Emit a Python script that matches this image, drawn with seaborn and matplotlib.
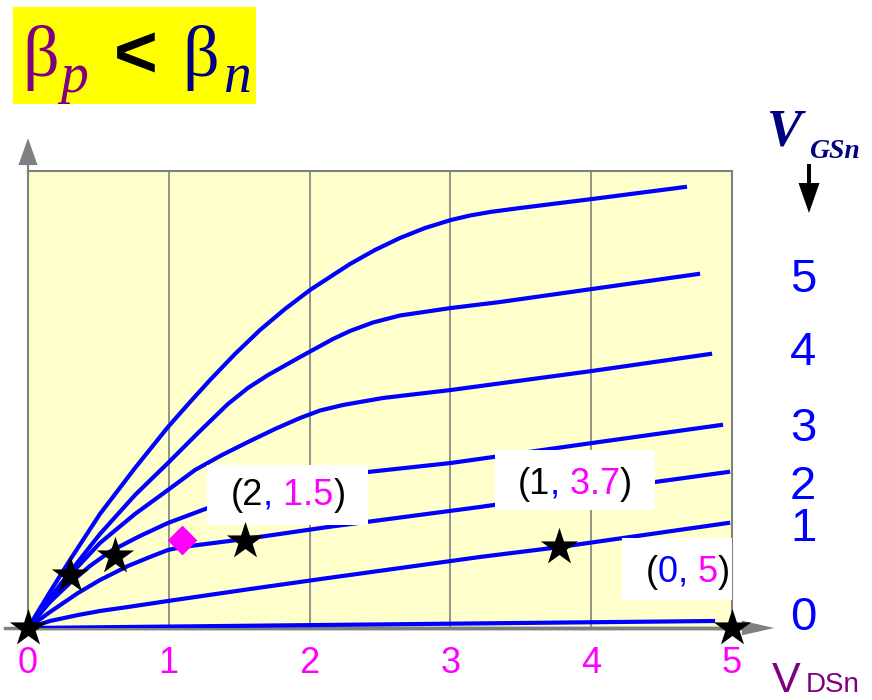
import matplotlib
matplotlib.use("Agg")
import matplotlib.pyplot as plt
from matplotlib.patches import Rectangle, Polygon
from matplotlib.transforms import Affine2D
from matplotlib.offsetbox import TextArea, HPacker, AnnotationBbox
import pandas as pd
import seaborn as sns

# ---- NMOS output characteristics: V_DS (V) vs drain current (arb. units) ----
vds_a = [0, 0.156, 0.298, 0.511, 0.760, 0.994, 1.151, 1.293, 1.470, 1.648, 1.825, 2.003, 2.145,
         2.287, 2.464, 2.642, 2.820, 3.004, 3.139, 3.281, 3.494, 4.006, 4.666]
id_a = [0, 0.788, 1.488, 2.495, 3.501, 4.398, 4.945, 5.427, 5.996, 6.521, 6.980, 7.396, 7.681,
        7.965, 8.271, 8.534, 8.753, 8.928, 9.026, 9.103, 9.190, 9.387, 9.650]

vds_b = [0, 0.156, 0.298, 0.511, 0.760, 0.994, 1.207, 1.420, 1.562, 1.705, 1.932, 2.166, 2.287,
         2.450, 2.642, 3.004, 3.352, 4.006, 4.759]
id_b = [0, 0.656, 1.225, 2.057, 2.910, 3.611, 4.267, 4.902, 5.252, 5.536, 5.930, 6.324, 6.499,
        6.685, 6.838, 7.002, 7.133, 7.418, 7.746]

vds_c = [0, 0.156, 0.298, 0.511, 0.760, 0.994, 1.186, 1.378, 1.577, 1.754, 1.932, 2.074, 2.237,
         2.521, 3.004, 4.006, 4.844]
id_c = [0, 0.613, 1.160, 1.860, 2.495, 3.020, 3.457, 3.786, 4.092, 4.354, 4.595, 4.759, 4.880,
        5.033, 5.208, 5.624, 5.996]

vds_d = [0, 0.156, 0.298, 0.440, 0.589, 0.795, 0.994, 1.278, 1.470, 1.648, 1.932, 2.216, 2.415,
         3.004, 4.006, 4.922]
id_d = [0, 0.569, 0.985, 1.357, 1.685, 2.013, 2.298, 2.626, 2.823, 2.976, 3.195, 3.326, 3.414,
        3.611, 4.048, 4.442]

vds_e = [0, 0.156, 0.355, 0.511, 0.710, 0.866, 0.994, 1.094, 1.541, 2.131, 3.210, 4.453, 4.972]
id_e = [0, 0.350, 0.766, 1.050, 1.357, 1.554, 1.707, 1.772, 1.947, 2.210, 2.648, 3.195, 3.414]

vds_f = [0, 0.156, 0.355, 0.511, 0.710, 0.994, 1.577, 2.131, 3.210, 3.778, 4.972]
id_f = [0, 0.153, 0.284, 0.372, 0.460, 0.591, 0.853, 1.094, 1.554, 1.772, 2.298]

vds_g = [0, 4.865]
id_g = [0, 0.153]

# operating points (stars) and the highlighted point (diamond)
star_vds = [0, 0.298, 0.618, 1.541, 3.771, 5.0]
star_id = [0, 1.16, 1.58, 1.90, 1.772, 0]
diamond_vds = [1.094]
diamond_id = [1.926]

x_ticks = [0, 1, 2, 3, 4, 5]
x_tick_labels = ["0", "1", "2", "3", "4", "5"]
vgs_labels = ["5", "4", "3", "2", "1", "0"]

# (V_in, V_out) annotations, split into coloured pieces
pair_texts = [
    [("(2", "black"), (",", "#0000ff"), (" 1.5", "#ff00ff"), (")", "black")],
    [("(1", "black"), (",", "#0000ff"), (" 3.7", "#ff00ff"), (")", "black")],
    [("(", "black"), ("0", "#0000ff"), (",", "#0000ff"), (" 5", "#ff00ff"), (")", "black")],
]

SANS = "Liberation Sans"
SERIF = "Liberation Serif"
BLUE = "#0000ff"
MAGENTA = "#ff00ff"
PURPLE = "#800080"
NAVY = "#000080"
GREY = "#808080"

W, H = 872, 700
fig = plt.figure(figsize=(W / 100, H / 100), dpi=100)
fig.patch.set_facecolor("white")
# pixel coordinates with origin at top-left
PX = Affine2D().scale(1 / W, -1 / H).translate(0, 1) + fig.transFigure

ax = fig.add_axes([28 / W, 72 / H, 704 / W, 457 / H])
ax.set_facecolor("#ffffcc")
ax.set_xlim(0, 5)
ax.set_ylim(0, 10)

curves = {"a": (vds_a, id_a), "b": (vds_b, id_b), "c": (vds_c, id_c), "d": (vds_d, id_d),
          "e": (vds_e, id_e), "f": (vds_f, id_f), "g": (vds_g, id_g)}
df = pd.concat([pd.DataFrame({"vds": x, "id": y, "curve": k}) for k, (x, y) in curves.items()],
               ignore_index=True)
sns.lineplot(data=df, x="vds", y="id", units="curve", estimator=None, sort=False,
             color=BLUE, lw=3.0, ax=ax, zorder=3, legend=False)
for ln in ax.lines:
    ln.set_solid_joinstyle("round")

# frame, grid and axis arrows
for s in ax.spines.values():
    s.set_color(GREY)
    s.set_linewidth(1.5)
ax.spines["bottom"].set_linewidth(2.5)
ax.xaxis.grid(True, color=GREY, lw=1.2)
ax.yaxis.grid(False)
ax.set_axisbelow(True)
ax.set_yticks([])
ax.set_xticks(x_ticks)
ax.set_xticklabels(x_tick_labels, color=MAGENTA, fontsize=26, family=SANS)
ax.tick_params(axis="x", length=0, pad=13)
ax.set_xlabel("")
ax.set_ylabel("")

ax.plot([-0.163, 5.1], [0, 0], color=GREY, lw=2.5, clip_on=False, zorder=2.4)
ax.add_patch(Polygon([(5.07, -0.16), (5.07, 0.16), (5.30, 0)], closed=True, fc=GREY, ec="none",
                     clip_on=False, zorder=2.4))
ax.plot([0, 0], [9.9, 10.15], color=GREY, lw=1.5, clip_on=False, zorder=2.4)
ax.add_patch(Polygon([(-0.0675, 10.13), (0.0675, 10.13), (0, 10.72)], closed=True, fc=GREY,
                     ec="none", clip_on=False, zorder=2.4))

# white label boxes
for (x0, y0, x1, y1) in [(1.271, 2.25, 2.415, 3.57), (3.317, 2.58, 4.453, 3.89), (4.219, 0.61, 5.0, 1.97)]:
    ax.add_patch(Rectangle((x0, y0), x1 - x0, y1 - y0, fc="white", ec="none", zorder=4))

for parts, (cx, cy) in zip(pair_texts, [(1.847, 2.91), (3.885, 3.15), (4.687, 1.22)]):
    areas = [TextArea(t, textprops=dict(color=c, fontsize=26, family=SANS)) for t, c in parts]
    box = HPacker(children=areas, pad=0, sep=0, align="baseline")
    ab = AnnotationBbox(box, (cx, cy), xycoords="data", frameon=False, box_alignment=(0.5, 0.5),
                        zorder=5, pad=0)
    ax.add_artist(ab)

sns.scatterplot(x=diamond_vds, y=diamond_id, marker="D", s=230, color=MAGENTA, linewidth=0,
                ax=ax, zorder=6, clip_on=False, legend=False)
sns.scatterplot(x=star_vds, y=star_id, marker="*", s=800, color="black", linewidth=0,
                ax=ax, zorder=7, clip_on=False, legend=False)

# V_GS labels on the right
for lab, yb in zip(vgs_labels, [292, 365, 441, 499, 541, 630]):
    fig.text(803, yb, lab, transform=PX, ha="center", va="baseline", color=BLUE,
             fontsize=34, family=SANS)

# V_GSn heading with downward arrow
fig.text(767, 145, "V", transform=PX, ha="left", va="baseline", color=NAVY, fontsize=38,
         family=SERIF, fontweight="bold", fontstyle="italic")
fig.text(809, 158, "GSn", transform=PX, ha="left", va="baseline", color=NAVY, fontsize=20,
         family=SERIF, fontweight="bold", fontstyle="italic")
fig.patches.append(Rectangle((807, 164), 4, 21, transform=PX, fc="black", ec="none"))
fig.patches.append(Polygon([(798.5, 183), (819.5, 183), (809, 213)], closed=True, transform=PX,
                           fc="black", ec="none"))

# V_DSn axis name
fig.text(772, 692, "V", transform=PX, ha="left", va="baseline", color=PURPLE, fontsize=31,
         family=SANS)
fig.text(806, 692, "DSn", transform=PX, ha="left", va="baseline", color=PURPLE, fontsize=20,
         family=SANS)

# beta_p < beta_n title
fig.patches.append(Rectangle((13, 7), 243, 97, transform=PX, fc="#ffff00", ec="none"))
fig.text(22, 76, "β", transform=PX, ha="left", va="baseline", color=PURPLE, fontsize=52, family=SERIF)
fig.text(60, 92, "p", transform=PX, ha="left", va="baseline", color=PURPLE, fontsize=40,
         family=SERIF, fontstyle="italic")
fig.text(114, 78, "<", transform=PX, ha="left", va="baseline", color="black", fontsize=54,
         family=SANS, fontweight="bold")
fig.text(182, 76, "β", transform=PX, ha="left", va="baseline", color=NAVY, fontsize=52, family=SERIF)
fig.text(223, 92, "n", transform=PX, ha="left", va="baseline", color=NAVY, fontsize=40,
         family=SERIF, fontstyle="italic")

fig.savefig("out.png", dpi=100)
